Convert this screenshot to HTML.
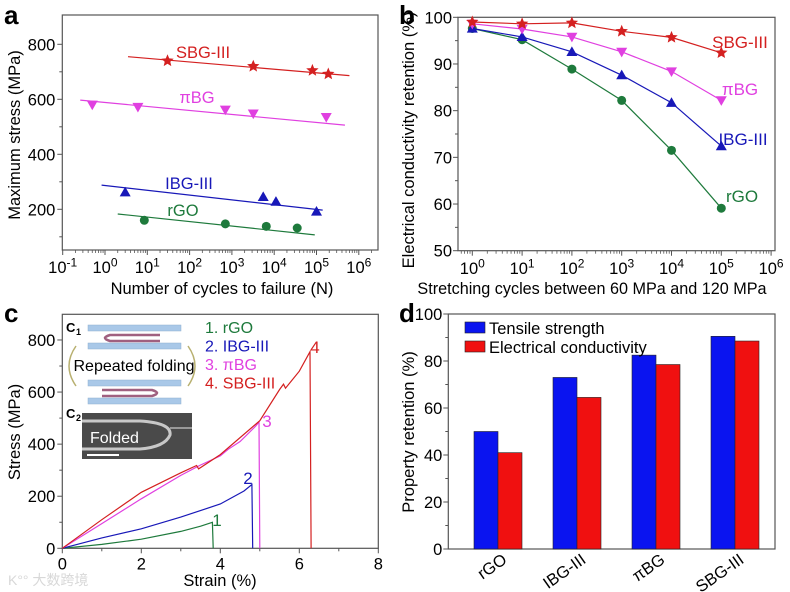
<!DOCTYPE html>
<html><head><meta charset="utf-8">
<style>
html,body{margin:0;padding:0;background:#fff;}
svg{display:block;font-family:"Liberation Sans","Noto Sans CJK SC",sans-serif;}
</style></head>
<body>
<svg id="fig" width="790" height="592" viewBox="0 0 790 592" xmlns="http://www.w3.org/2000/svg">
<rect width="790" height="592" fill="#fff"/>
<g id="gA"></g>
<g id="gB"></g>
<g id="gC"></g>
<g id="gD"></g>
<text x="4" y="24" font-size="26" font-weight="bold">a</text>
<text x="399" y="24" font-size="26" font-weight="bold">b</text>
<text x="4" y="322" font-size="26" font-weight="bold">c</text>
<text x="399" y="322" font-size="26" font-weight="bold">d</text>
<text x="8" y="585" font-size="14" fill="#d8d8d8">K°° 大数跨境</text>
</svg>
<script>
// ---------- Panel a data ----------
const aSeries = ["SBG-III","πBG","IBG-III","rGO"];
const aCyclesSBG = [30, 3200, 80000, 190000];
const aStressSBG = [740, 720, 705, 692];
const aCyclesPBG = [0.5, 6, 700, 3200, 170000];
const aStressPBG = [580, 572, 562, 548, 535];
const aCyclesIBG = [3, 5500, 11000, 100000];
const aStressIBG = [262, 245, 228, 192];
const aCyclesRGO = [8.5, 700, 6500, 35000];
const aStressRGO = [160, 147, 138, 132];
const aFitSBG = [[3.5, 755], [600000, 686]];
const aFitPBG = [[0.26, 597], [470000, 506]];
const aFitIBG = [[0.83, 288], [140000, 197]];
const aFitRGO = [[2.0, 183], [91000, 107]];
const aYTicks = [200, 400, 600, 800];
const aXTickExps = [-1, 0, 1, 2, 3, 4, 5, 6];
// ---------- Panel b data ----------
const bCycles = [1, 10, 100, 1000, 10000, 100000];
const bSBG = [99, 98.6, 98.8, 97, 95.7, 92.4];
const bPBG = [98.6, 97.5, 95.8, 92.6, 88.4, 82.2];
const bIBG = [97.6, 95.8, 92.6, 87.6, 81.7, 72.4];
const bRGO = [97.6, 95.2, 88.9, 82.2, 71.5, 59.1];
const bYTicks = [50, 60, 70, 80, 90, 100];
const bXTickExps = [0, 1, 2, 3, 4, 5, 6];
// ---------- Panel c data ----------
const cStrainRGO = [0, 1, 2, 3, 3.5, 3.8, 3.82];
const cStressRGO = [0, 15, 35, 65, 85, 100, 0];
const cStrainIBG = [0, 1, 2, 3, 4, 4.6, 4.8, 4.82];
const cStressIBG = [0, 40, 75, 120, 170, 220, 245, 0];
const cStrainPBG = [0, 1, 2, 3, 3.5, 4, 4.2, 4.5, 4.9, 4.98, 5.0];
const cStressPBG = [0, 95, 190, 280, 320, 355, 380, 410, 470, 485, 0];
const cStrainSBG = [0, 1, 2, 3, 3.4, 3.45, 4, 5, 5.5, 5.6, 5.65, 6.0, 6.27, 6.3];
const cStressSBG = [0, 110, 215, 290, 318, 305, 360, 490, 610, 630, 615, 680, 755, 0];
const cXTicks = [0, 2, 4, 6, 8];
const cYTicks = [0, 200, 400, 600, 800];
// ---------- Panel d data ----------
const dCategories = ["rGO", "IBG-III", "πBG", "SBG-III"];
const dTensile = [50, 73, 82.5, 90.5];
const dConductivity = [41, 64.5, 78.5, 88.5];
const dYTicks = [0, 20, 40, 60, 80, 100];

const NS = "http://www.w3.org/2000/svg";
const FT = 16.5; // tick font
const FA = 16.5; // axis title font
function mk(parent, tag, attrs, txt){
  const e = document.createElementNS(NS, tag);
  for (const k in attrs) e.setAttribute(k, attrs[k]);
  if (txt !== undefined) e.textContent = txt;
  parent.appendChild(e);
  return e;
}
const AX = "#555";
const C_SBG = "#d42020", C_PBG = "#e040e0", C_IBG = "#1818b8", C_RGO = "#1e7a3c";

function star(g, x, y, r, col){
  let p = [];
  for (let i = 0; i < 10; i++){
    const a = -Math.PI/2 + i*Math.PI/5, rr = i%2 ? r*0.45 : r;
    p.push((x+rr*Math.cos(a)).toFixed(1)+","+(y+rr*Math.sin(a)).toFixed(1));
  }
  return mk(g, "polygon", {points:p.join(" "), fill:col});
}
function tri(g, x, y, r, col, down){
  const s = down ? -1 : 1;
  return mk(g, "polygon", {points:`${x},${y-s*r} ${x-r},${y+s*r*0.75} ${x+r},${y+s*r*0.75}`, fill:col});
}
function circ(g, x, y, r, col){ return mk(g, "circle", {cx:x, cy:y, r:r, fill:col}); }
function marker(g, kind, x, y, col){
  if (kind==="star") return star(g, x, y, 6.5, col);
  if (kind==="down") return tri(g, x, y, 5.5, col, true);
  if (kind==="up") return tri(g, x, y, 5.5, col, false);
  return circ(g, x, y, 4.5, col);
}
function logTicks(g, xs, y0, expMin, expMax, xmin, xmax){
  for (let e = expMin; e <= expMax; e++){
    const x = xs(Math.pow(10, e));
    if (x >= xmin-0.5 && x <= xmax+0.5){
      const t = mk(g, "line", {x1:x, x2:x, y1:y0, y2:y0+5, stroke:AX, "stroke-width":1});
      
      
    }
    for (let m = 2; m < 10; m++){
      const xm = xs(m*Math.pow(10, e));
      if (xm > xmin && xm < xmax) mk(g, "line", {x1:xm, x2:xm, y1:y0, y2:y0+3, stroke:AX, "stroke-width":0.8});
    }
  }
}
function expLabel(g, x, y, e){
  const t = mk(g, "text", {x:x, y:y, "font-size":FT, "text-anchor":"middle"});
  
  
  mk(t, "tspan", {}, "10");
  mk(t, "tspan", {dy:-6.5, "font-size":12}, String(e));
}

// ================= Panel A =================
(function(){
  const g = document.getElementById("gA");
  const L=62.3, R=378, T=15, B=250;
  const xs = v => 105 + Math.log10(v)*42.3;
  const ys = v => 209.3 - (v-200)*0.275;
  const frame = mk(g, "rect", {x:L, y:T, width:R-L, height:B-T, fill:"none", stroke:AX, "stroke-width":1.2});
  
  
  logTicks(g, xs, B, -1, 6, L, R);
  aXTickExps.forEach(e => expLabel(g, xs(Math.pow(10,e)), 273, e));
  aYTicks.forEach(v => {
    mk(g, "line", {x1:L-5, x2:L, y1:ys(v), y2:ys(v), stroke:AX});
    const t = mk(g, "text", {x:L-7, y:ys(v)+6, "font-size":FT, "text-anchor":"end"}, String(v));
    
    
  });
  [100,300,500,700].forEach(v => mk(g, "line", {x1:L-3, x2:L, y1:ys(v), y2:ys(v), stroke:AX}));
  const yl = mk(g, "text", {x:0, y:0, "font-size":FA, "text-anchor":"middle", transform:`translate(20,135) rotate(-90)`}, "Maximum stress (MPa)");
  
  
  const xl = mk(g, "text", {x:222, y:294, "font-size":FA, "text-anchor":"middle"}, "Number of cycles to failure (N)");
  
  
  const defs = [
    [aCyclesSBG, aStressSBG, aFitSBG, C_SBG, "star", "SBG-III", 203, 58],
    [aCyclesPBG, aStressPBG, aFitPBG, C_PBG, "down", "πBG", 197, 103],
    [aCyclesIBG, aStressIBG, aFitIBG, C_IBG, "up", "IBG-III", 189, 189],
    [aCyclesRGO, aStressRGO, aFitRGO, C_RGO, "circle", "rGO", 183, 216]
  ];
  defs.forEach(d => {
    const sg = mk(g, "g", {});
    
    
    const fl = mk(sg, "line", {x1:xs(d[2][0][0]), y1:ys(d[2][0][1]), x2:xs(d[2][1][0]), y2:ys(d[2][1][1]), stroke:d[3], "stroke-width":1.2});
    
    
    d[0].forEach((c, i) => {
      const m = marker(sg, d[4], xs(c), ys(d[1][i]), d[3]);
      
      
    });
    const lb = mk(sg, "text", {x:d[6], y:d[7], "font-size":16.5, "text-anchor":"middle", fill:d[3]}, d[5]);
    
    
  });
})();

// ================= Panel B =================
(function(){
  const g = document.getElementById("gB");
  const L=458, R=775, T=17.3, B=250.7;
  const xs = v => 472.3 + Math.log10(v)*49.8;
  const ys = v => 250.7 - (v-50)*4.668;
  const frame = mk(g, "rect", {x:L, y:T, width:R-L, height:B-T, fill:"none", stroke:AX, "stroke-width":1.2});
  
  
  logTicks(g, xs, B, -1, 6, L, R);
  bXTickExps.forEach(e => expLabel(g, xs(Math.pow(10,e)), 274, e));
  bYTicks.forEach(v => {
    mk(g, "line", {x1:L-5, x2:L, y1:ys(v), y2:ys(v), stroke:AX});
    const t = mk(g, "text", {x:L-6, y:ys(v)+6, "font-size":FT, "text-anchor":"end"}, String(v));
    
    
  });
  [55,65,75,85,95].forEach(v => mk(g, "line", {x1:L-3, x2:L, y1:ys(v), y2:ys(v), stroke:AX}));
  const yl = mk(g, "text", {x:0, y:0, "font-size":FA, "text-anchor":"middle", transform:`translate(414,140) rotate(-90)`}, "Electrical conductivity retention (%)");
  
  
  const xl = mk(g, "text", {x:592, y:294, "font-size":16.2, "text-anchor":"middle"}, "Stretching cycles between 60 MPa and 120 MPa");
  
  
  const defs = [
    [bRGO, C_RGO, "circle", "rGO", 742, 202],
    [bIBG, C_IBG, "up", "IBG-III", 743, 145],
    [bPBG, C_PBG, "down", "πBG", 740, 95],
    [bSBG, C_SBG, "star", "SBG-III", 740, 48]
  ];
  defs.forEach(d => {
    const sg = mk(g, "g", {});
    
    
    const pts = bCycles.map((c,i) => xs(c).toFixed(1)+","+ys(d[0][i]).toFixed(1)).join(" ");
    const pl = mk(sg, "polyline", {points:pts, fill:"none", stroke:d[1], "stroke-width":1.2});
    
    
    bCycles.forEach((c,i) => {
      const m = marker(sg, d[2], xs(c), ys(d[0][i]), d[1]);
      
      
    });
    const lb = mk(sg, "text", {x:d[4], y:d[5], "font-size":17, "text-anchor":"middle", fill:d[1]}, d[3]);
    
    
  });
})();

// ================= Panel C =================
(function(){
  const g = document.getElementById("gC");
  const L=62.3, R=378.3, T=314.3, B=548.3;
  const xs = v => L + v*39.5;
  const ys = v => B - v*0.2604;
  const frame = mk(g, "rect", {x:L, y:T, width:R-L, height:B-T, fill:"none", stroke:AX, "stroke-width":1.2});
  
  
  cXTicks.forEach(v => {
    mk(g, "line", {x1:xs(v), x2:xs(v), y1:B, y2:B+5, stroke:AX});
    const t = mk(g, "text", {x:xs(v), y:B+21, "font-size":FT, "text-anchor":"middle"}, String(v));
    
    
  });
  [1,3,5,7].forEach(v => mk(g, "line", {x1:xs(v), x2:xs(v), y1:B, y2:B+3, stroke:AX}));
  cYTicks.forEach(v => {
    mk(g, "line", {x1:L-5, x2:L, y1:ys(v), y2:ys(v), stroke:AX});
    const t = mk(g, "text", {x:L-7, y:ys(v)+6, "font-size":FT, "text-anchor":"end"}, String(v));
    
    
  });
  [100,300,500,700].forEach(v => mk(g, "line", {x1:L-3, x2:L, y1:ys(v), y2:ys(v), stroke:AX}));
  const yl = mk(g, "text", {x:0, y:0, "font-size":FA, "text-anchor":"middle", transform:`translate(20,432) rotate(-90)`}, "Stress (MPa)");
  
  
  const xl = mk(g, "text", {x:220, y:586, "font-size":FA, "text-anchor":"middle"}, "Strain (%)");
  
  
  const defs = [
    [cStrainRGO, cStressRGO, C_RGO, "1", 217, 526],
    [cStrainIBG, cStressIBG, C_IBG, "2", 248, 484],
    [cStrainPBG, cStressPBG, C_PBG, "3", 267, 427],
    [cStrainSBG, cStressSBG, C_SBG, "4", 315, 353]
  ];
  defs.forEach(d => {
    const pts = d[0].map((s,i) => xs(s).toFixed(1)+","+ys(d[1][i]).toFixed(1)).join(" ");
    const pl = mk(g, "polyline", {points:pts, fill:"none", stroke:d[2], "stroke-width":1.2});
    
    
    const lb = mk(g, "text", {x:d[4], y:d[5], "font-size":17, "text-anchor":"middle", fill:d[2]}, d[3]);
    
    
  });
  const legend = [["1. rGO", C_RGO],["2. IBG-III", C_IBG],["3. πBG", C_PBG],["4. SBG-III", C_SBG]];
  legend.forEach((l,i) => {
    const t = mk(g, "text", {x:205, y:333+i*18.5, "font-size":16, fill:l[1]}, l[0]);
    
    
  });
  // inset c1 schematic
  const ins = mk(g, "g", {});
  
  
  mk(ins, "text", {x:66, y:332, "font-size":13, "font-weight":"bold"}, "C");
  mk(ins, "text", {x:76, y:335, "font-size":9, "font-weight":"bold"}, "1");
  mk(ins, "rect", {x:88, y:325, width:93, height:6, fill:"#a9c8e8", stroke:"#8fb0d0", "stroke-width":0.5});
  mk(ins, "rect", {x:88, y:343, width:93, height:6, fill:"#a9c8e8", stroke:"#8fb0d0", "stroke-width":0.5});
  mk(ins, "path", {d:"M160,335 L110,335 Q100,338 110,341 L160,341", fill:"none", stroke:"#a06080", "stroke-width":2.5});
  mk(ins, "rect", {x:88, y:380, width:93, height:6, fill:"#a9c8e8", stroke:"#8fb0d0", "stroke-width":0.5});
  mk(ins, "rect", {x:88, y:398, width:93, height:6, fill:"#a9c8e8", stroke:"#8fb0d0", "stroke-width":0.5});
  mk(ins, "path", {d:"M102,390 L152,390 Q162,393 152,396 L102,396", fill:"none", stroke:"#a06080", "stroke-width":2.5});
  mk(ins, "path", {d:"M76,346 Q62,366 76,386", fill:"none", stroke:"#b8b070", "stroke-width":1.5});
  mk(ins, "path", {d:"M188,346 Q202,366 188,386", fill:"none", stroke:"#b8b070", "stroke-width":1.5});
  const rf = mk(ins, "text", {x:134, y:371, "font-size":16, "text-anchor":"middle"}, "Repeated folding");
  
  
  mk(ins, "text", {x:66, y:418, "font-size":13, "font-weight":"bold"}, "C");
  mk(ins, "text", {x:76, y:421, "font-size":9, "font-weight":"bold"}, "2");
  const sem = mk(ins, "rect", {x:82, y:413, width:110, height:46, fill:"#4a4a4a"});
  
  
  mk(ins, "path", {d:"M82,421 L140,421 Q172,423 170,435 Q165,447 140,449 L82,449", fill:"none", stroke:"#c8c8c8", "stroke-width":3});
  mk(ins, "line", {x1:170, y1:428, x2:192, y2:428, stroke:"#999", "stroke-width":2});
  mk(ins, "text", {x:90, y:443, "font-size":16, fill:"#fff"}, "Folded");
  mk(ins, "line", {x1:87, y1:455, x2:119, y2:455, stroke:"#fff", "stroke-width":2});
})();

// ================= Panel D =================
(function(){
  const g = document.getElementById("gD");
  const L=448.3, R=775, T=314, B=549;
  const ys = v => B - v*2.35;
  const xc = i => 498 + i*79;
  const bw = 24;
  const frame = mk(g, "rect", {x:L, y:T, width:R-L, height:B-T, fill:"none", stroke:AX, "stroke-width":1.2});
  
  
  dYTicks.forEach(v => {
    mk(g, "line", {x1:L-5, x2:L, y1:ys(v), y2:ys(v), stroke:AX});
    const t = mk(g, "text", {x:L-6, y:ys(v)+6, "font-size":FT, "text-anchor":"end"}, String(v));
    
    
  });
  [10,30,50,70,90].forEach(v => mk(g, "line", {x1:L-3, x2:L, y1:ys(v), y2:ys(v), stroke:AX}));
  const yl = mk(g, "text", {x:0, y:0, "font-size":FA, "text-anchor":"middle", transform:`translate(414,432) rotate(-90)`}, "Property retention (%)");
  
  
  dCategories.forEach((c,i) => {
    const b1 = mk(g, "rect", {x:xc(i)-bw, y:ys(dTensile[i]), width:bw, height:B-ys(dTensile[i]), fill:"#0a14f0", stroke:"#222", "stroke-width":0.6});
    
    
    const b2 = mk(g, "rect", {x:xc(i), y:ys(dConductivity[i]), width:bw, height:B-ys(dConductivity[i]), fill:"#f01010", stroke:"#222", "stroke-width":0.6});
    
    
    const t = mk(g, "text", {x:0, y:0, "font-size":16.5, "text-anchor":"end", transform:`translate(${xc(i)+10},562) rotate(-35)`}, c);
    
    
  });
  const lg1 = mk(g, "g", {});
  
  
  mk(lg1, "rect", {x:465, y:322, width:20, height:11, fill:"#0a14f0", stroke:"#222", "stroke-width":0.6});
  mk(lg1, "text", {x:489, y:334, "font-size":16.5}, "Tensile strength");
  const lg2 = mk(g, "g", {});
  
  
  mk(lg2, "rect", {x:465, y:341, width:20, height:11, fill:"#f01010", stroke:"#222", "stroke-width":0.6});
  mk(lg2, "text", {x:489, y:353, "font-size":16.5}, "Electrical conductivity");
})();
</script>
</body></html>
